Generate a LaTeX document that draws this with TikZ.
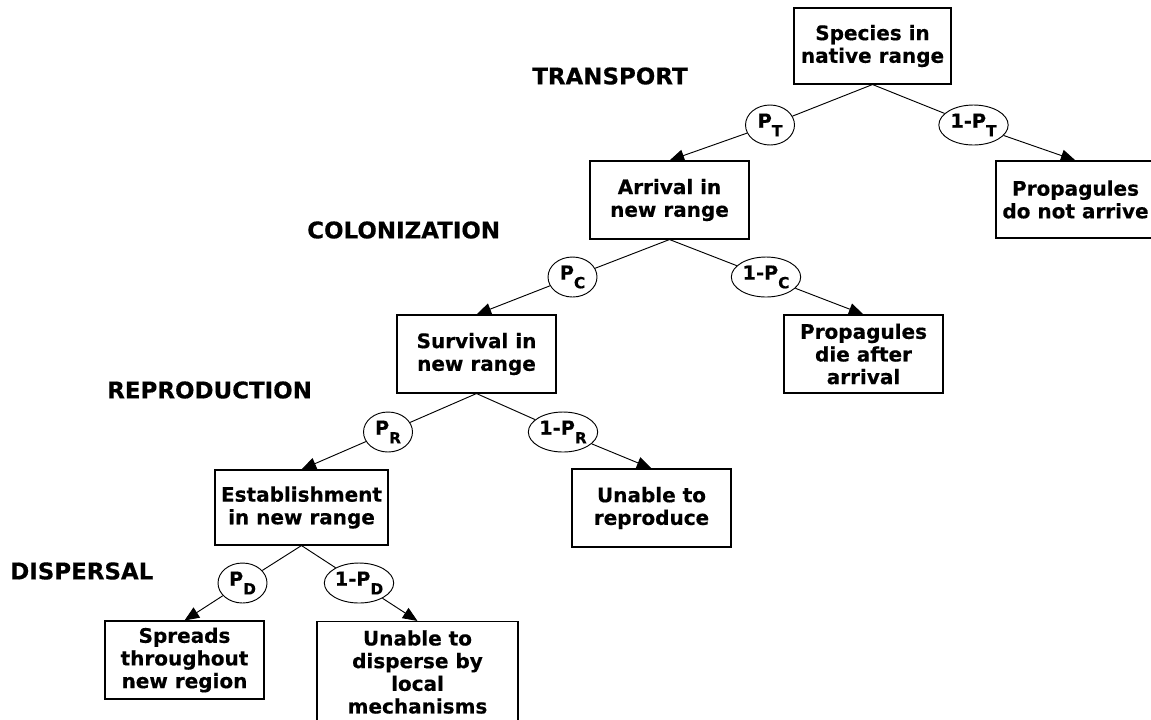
\documentclass[tikz,border=0pt]{standalone}
\usepackage{fontspec}
\setmainfont{DejaVu Sans}[BoldFeatures={FakeBold=0.4}]
\usetikzlibrary{arrows.meta,shapes.geometric}
\newcommand{\pr}[2]{#1P\raisebox{-6.5pt}{\fontsize{11.5}{13}\selectfont #2}}
\begin{document}
\begin{tikzpicture}[x=0.75pt,y=-0.75pt,
  box/.style={draw, line width=0.8pt, align=center, inner sep=0pt,
    minimum width=119.25pt, minimum height=58.5pt,
    font=\fontsize{15}{17}\selectfont\bfseries},
  probnode/.style={draw, ellipse, line width=0.7pt, inner sep=0pt,
    minimum height=30pt, minimum width=36.75pt,
    font=\fontsize{14.5}{16}\selectfont\bfseries},
  probwide/.style={probnode, minimum width=52pt},
  stage/.style={anchor=west, inner sep=0pt,
    font=\fontsize{17.2}{20}\selectfont\bfseries},
  link/.style={line width=0.7pt},
  arr/.style={line width=0.7pt, -{Triangle[length=11pt,width=9pt]}}]
\useasboundingbox (0,0) rectangle (1151,719);

% stage labels
\node[stage] (lT) at (532,76) {TRANSPORT};
\node[stage] (lC) at (307,230) {COLONIZATION};
\node[stage] (lR) at (107,390) {REPRODUCTION};
\node[stage] (lD) at (10,571) {DISPERSAL};

% boxes
\node[box, minimum width=117.75pt, minimum height=57pt] (species) at (872.5,46) {Species in\\native range};
\node[box] (arrival) at (669.5,200) {Arrival in\\new range};
\node[box, minimum height=57.75pt] (noarr) at (1075.5,199.5) {Propagules\\do not arrive};
\node[box] (survival) at (476.5,354) {Survival in\\new range};
\node[box] (die) at (863.5,354) {Propagules\\die after\\arrival};
\node[box, minimum width=129.75pt, minimum height=56.25pt] (estab) at (301.5,507.5) {Establishment\\in new range};
\node[box] (norepro) at (651.5,508) {Unable to\\reproduce};
\node[box] (spreads) at (184.5,660) {Spreads\\throughout\\new region};
\node[box, minimum width=150.75pt, minimum height=75.75pt] (nodisp) at (417.5,672) {Unable to\\disperse by\\local\\mechanisms};

% probability ellipses
\node[probnode] (pT) at (770,125) {\pr{}{T}};
\node[probwide] (npT) at (973.5,125) {\pr{1-}{T}};
\node[probnode] (pC) at (572.5,277) {\pr{}{C}};
\node[probwide] (npC) at (766,277) {\pr{1-}{C}};
\node[probnode] (pR) at (388,432) {\pr{}{R}};
\node[probwide] (npR) at (563,432) {\pr{1-}{R}};
\node[probnode] (pD) at (242.5,583) {\pr{}{D}};
\node[probwide] (npD) at (359,583) {\pr{1-}{D}};

% connectors
\draw[link] (species.south) -- (pT);
\draw[link] (species.south) -- (npT);
\draw[arr] (pT) -- (arrival.north);
\draw[arr] (npT) -- (noarr.north);

\draw[link] (arrival.south) -- (pC);
\draw[link] (arrival.south) -- (npC);
\draw[arr] (pC) -- (survival.north);
\draw[arr] (npC) -- (die.north);

\draw[link] (survival.south) -- (pR);
\draw[link] (survival.south) -- (npR);
\draw[arr] (pR) -- (estab.north);
\draw[arr] (npR) -- (norepro.north);

\draw[link] (estab.south) -- (pD);
\draw[link] (estab.south) -- (npD);
\draw[arr] (pD) -- (spreads.north);
\draw[arr] (npD) -- (nodisp.north);
\end{tikzpicture}
\end{document}
